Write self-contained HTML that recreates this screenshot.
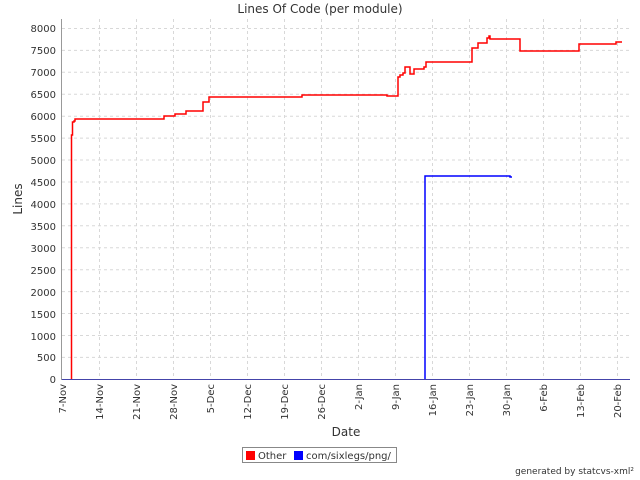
<!DOCTYPE html>
<html><head><style>body{margin:0;background:#fff}svg{display:block}text{font-family:"DejaVu Sans","Liberation Sans",sans-serif;fill:#333}</style></head><body>
<svg width="640" height="480" viewBox="0 0 640 480">
<rect width="640" height="480" fill="#fff"/>
<text x="320" y="13" text-anchor="middle" font-size="12" fill="#000">Lines Of Code (per module)</text>
<g stroke="#d8d8d8" stroke-dasharray="3,3" stroke-width="1">
<line x1="62" y1="28.5" x2="630" y2="28.5"/><line x1="62" y1="50.4" x2="630" y2="50.4"/><line x1="62" y1="72.3" x2="630" y2="72.3"/><line x1="62" y1="94.2" x2="630" y2="94.2"/><line x1="62" y1="116.2" x2="630" y2="116.2"/><line x1="62" y1="138.1" x2="630" y2="138.1"/><line x1="62" y1="160" x2="630" y2="160"/><line x1="62" y1="182" x2="630" y2="182"/><line x1="62" y1="203.9" x2="630" y2="203.9"/><line x1="62" y1="225.8" x2="630" y2="225.8"/><line x1="62" y1="247.8" x2="630" y2="247.8"/><line x1="62" y1="269.7" x2="630" y2="269.7"/><line x1="62" y1="291.6" x2="630" y2="291.6"/><line x1="62" y1="313.5" x2="630" y2="313.5"/><line x1="62" y1="335.5" x2="630" y2="335.5"/><line x1="62" y1="357.4" x2="630" y2="357.4"/>
<line x1="99.5" y1="19" x2="99.5" y2="379"/><line x1="136.5" y1="19" x2="136.5" y2="379"/><line x1="173.5" y1="19" x2="173.5" y2="379"/><line x1="210.5" y1="19" x2="210.5" y2="379"/><line x1="247.5" y1="19" x2="247.5" y2="379"/><line x1="284.5" y1="19" x2="284.5" y2="379"/><line x1="321.5" y1="19" x2="321.5" y2="379"/><line x1="358.5" y1="19" x2="358.5" y2="379"/><line x1="395.5" y1="19" x2="395.5" y2="379"/><line x1="432.5" y1="19" x2="432.5" y2="379"/><line x1="469.5" y1="19" x2="469.5" y2="379"/><line x1="506.5" y1="19" x2="506.5" y2="379"/><line x1="543.5" y1="19" x2="543.5" y2="379"/><line x1="580.5" y1="19" x2="580.5" y2="379"/><line x1="617.5" y1="19" x2="617.5" y2="379"/>
</g>
<g stroke="#999" fill="none"><line x1="61.5" y1="19" x2="61.5" y2="380"/></g>
<line x1="62" y1="379.5" x2="630" y2="379.5" stroke="#4444aa"/>
<polyline fill="none" stroke="#f00" stroke-width="1.5" points="71.5,379 71.5,135 72.5,135 72.5,122 74,122 74,121 75,121 75,119 164,119 164,116 175,116 175,114 186,114 186,111 203,111 203,102 209,102 209,97 302,97 302,95 387,95 387,96 398,96 398,77 400,77 400,75 403,75 403,73 405,73 405,67 410,67 410,74 414,74 414,69 424,69 424,67 426,67 426,62 472,62 472,48 478,48 478,43 487,43 487,38 489,38 489,36 490,36 490,39 520,39 520,51 579,51 579,44 616,44 616,42 622,42"/>
<polyline fill="none" stroke="#00f" stroke-width="1.5" points="425,379 425,176 510,176 510,177 512,177"/>
<g font-size="10" text-anchor="end">
<text x="56" y="32">8000</text><text x="56" y="54">7500</text><text x="56" y="76">7000</text><text x="56" y="98">6500</text><text x="56" y="120">6000</text><text x="56" y="142">5500</text><text x="56" y="164">5000</text><text x="56" y="186">4500</text><text x="56" y="208">4000</text><text x="56" y="230">3500</text><text x="56" y="252">3000</text><text x="56" y="274">2500</text><text x="56" y="296">2000</text><text x="56" y="318">1500</text><text x="56" y="340">1000</text><text x="56" y="361">500</text><text x="56" y="383">0</text>
</g>
<g font-size="10" text-anchor="end">
<text transform="translate(66,384) rotate(-90)">7-Nov</text><text transform="translate(103,384) rotate(-90)">14-Nov</text><text transform="translate(140,384) rotate(-90)">21-Nov</text><text transform="translate(177,384) rotate(-90)">28-Nov</text><text transform="translate(214,384) rotate(-90)">5-Dec</text><text transform="translate(251,384) rotate(-90)">12-Dec</text><text transform="translate(288,384) rotate(-90)">19-Dec</text><text transform="translate(325,384) rotate(-90)">26-Dec</text><text transform="translate(362,384) rotate(-90)">2-Jan</text><text transform="translate(399,384) rotate(-90)">9-Jan</text><text transform="translate(436,384) rotate(-90)">16-Jan</text><text transform="translate(473,384) rotate(-90)">23-Jan</text><text transform="translate(510,384) rotate(-90)">30-Jan</text><text transform="translate(547,384) rotate(-90)">6-Feb</text><text transform="translate(584,384) rotate(-90)">13-Feb</text><text transform="translate(621,384) rotate(-90)">20-Feb</text>
</g>
<text x="346" y="436" text-anchor="middle" font-size="12">Date</text>
<text transform="translate(22,199) rotate(-90)" text-anchor="middle" font-size="12">Lines</text>
<rect x="242.5" y="447.5" width="154" height="15" fill="#fff" stroke="#888"/>
<rect x="246" y="451" width="9" height="9" fill="#f00"/>
<text x="258" y="459" font-size="10">Other</text>
<rect x="294" y="451" width="9" height="9" fill="#00f"/>
<text x="306" y="459" font-size="10">com/sixlegs/png/</text>
<text x="634" y="474" text-anchor="end" font-size="9" fill="#000">generated by statcvs-xml²</text>
</svg>
</body></html>
